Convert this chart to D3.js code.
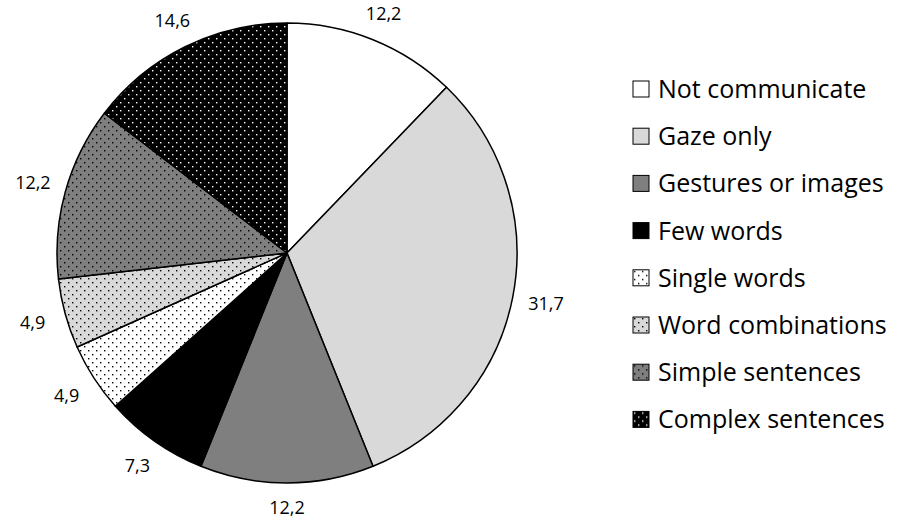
<!DOCTYPE html>
<html>
<head>
<meta charset="utf-8">
<script src="https://cdn.jsdelivr.net/npm/d3@7"></script>
<style>
  body { margin: 0; background: #fff; }
  text { font-family: "Open Sans", "Liberation Sans", sans-serif; fill: #000; }
</style>
</head>
<body>
<div id="target"></div>
<script>
// data
var categories = ['Not communicate', 'Gaze only', 'Gestures or images', 'Few words',
                  'Single words', 'Word combinations', 'Simple sentences', 'Complex sentences'];
var values = [12.2, 31.7, 12.2, 7.3, 4.9, 4.9, 12.2, 14.6];
var valueLabels = ['12,2', '31,7', '12,2', '7,3', '4,9', '4,9', '12,2', '14,6'];

// fill for each slice: base colour + dotted or not
var baseColors = ['#ffffff', '#d9d9d9', '#7f7f7f', '#000000', '#ffffff', '#d9d9d9', '#7f7f7f', '#000000'];
var dotted = [false, false, false, false, true, true, true, true];

var width = 898, height = 519;
var cx = 287, cy = 253, r = 230;

var svg = d3.select('#target')
    .append('svg')
    .attr('width', width)
    .attr('height', height);

var defs = svg.append('defs');

// dot patterns (like the excel 5% pattern)
baseColors.forEach(function(c, i) {
  if (!dotted[i]) return;
  var dot = c === '#000000' ? '#ffffff' : '#000000';
  var p = defs.append('pattern')
      .attr('id', 'pat' + i)
      .attr('patternUnits', 'userSpaceOnUse')
      .attr('width', 8)
      .attr('height', 8);
  p.append('rect').attr('width', 8).attr('height', 8).attr('fill', c);
  p.append('rect').attr('x', 1).attr('y', 1).attr('width', 1.4).attr('height', 1.4).attr('fill', dot);
  p.append('rect').attr('x', 5).attr('y', 5).attr('width', 1.4).attr('height', 1.4).attr('fill', dot);
});

function fillFor(i) {
  return dotted[i] ? 'url(#pat' + i + ')' : baseColors[i];
}

var pie = d3.pie().sort(null).value(function(d) { return d; });
var arcs = pie(values);
var arc = d3.arc().innerRadius(0).outerRadius(r);

var g = svg.append('g').attr('transform', 'translate(' + cx + ',' + cy + ')');

g.selectAll('path.slice')
  .data(arcs)
  .enter().append('path')
  .attr('class', 'slice')
  .attr('d', arc)
  .attr('fill', function(d, i) { return fillFor(i); })
  .attr('stroke', '#000')
  .attr('stroke-width', 1.5)
  .attr('stroke-linejoin', 'round');

// value labels outside end
function labelPos(d) {
  var a = (d.startAngle + d.endAngle) / 2;
  var lr = r + 25 + 9 * Math.abs(Math.sin(a));
  return [lr * Math.sin(a), -lr * Math.cos(a)];
}

g.selectAll('text.val')
  .data(arcs)
  .enter().append('text')
  .attr('class', 'val')
  .attr('x', function(d) { return labelPos(d)[0]; })
  .attr('y', function(d) { return labelPos(d)[1]; })
  .attr('text-anchor', 'middle')
  .attr('dy', '0.36em')
  .style('font-size', '18px')
  .text(function(d, i) { return valueLabels[i]; });

// legend
var legend = svg.append('g').attr('transform', 'translate(633, 89)');
var rowH = 47.2;

var items = legend.selectAll('g.item')
  .data(categories)
  .enter().append('g')
  .attr('class', 'item')
  .attr('transform', function(d, i) { return 'translate(0,' + (i * rowH) + ')'; });

items.append('rect')
  .attr('x', 0)
  .attr('y', -8)
  .attr('width', 16)
  .attr('height', 16)
  .attr('fill', function(d, i) { return fillFor(i); })
  .attr('stroke', '#000')
  .attr('stroke-width', 1);

items.append('text')
  .attr('x', 25)
  .attr('dy', '0.36em')
  .style('font-size', '25px')
  .text(function(d) { return d; });
</script>
</body>
</html>
